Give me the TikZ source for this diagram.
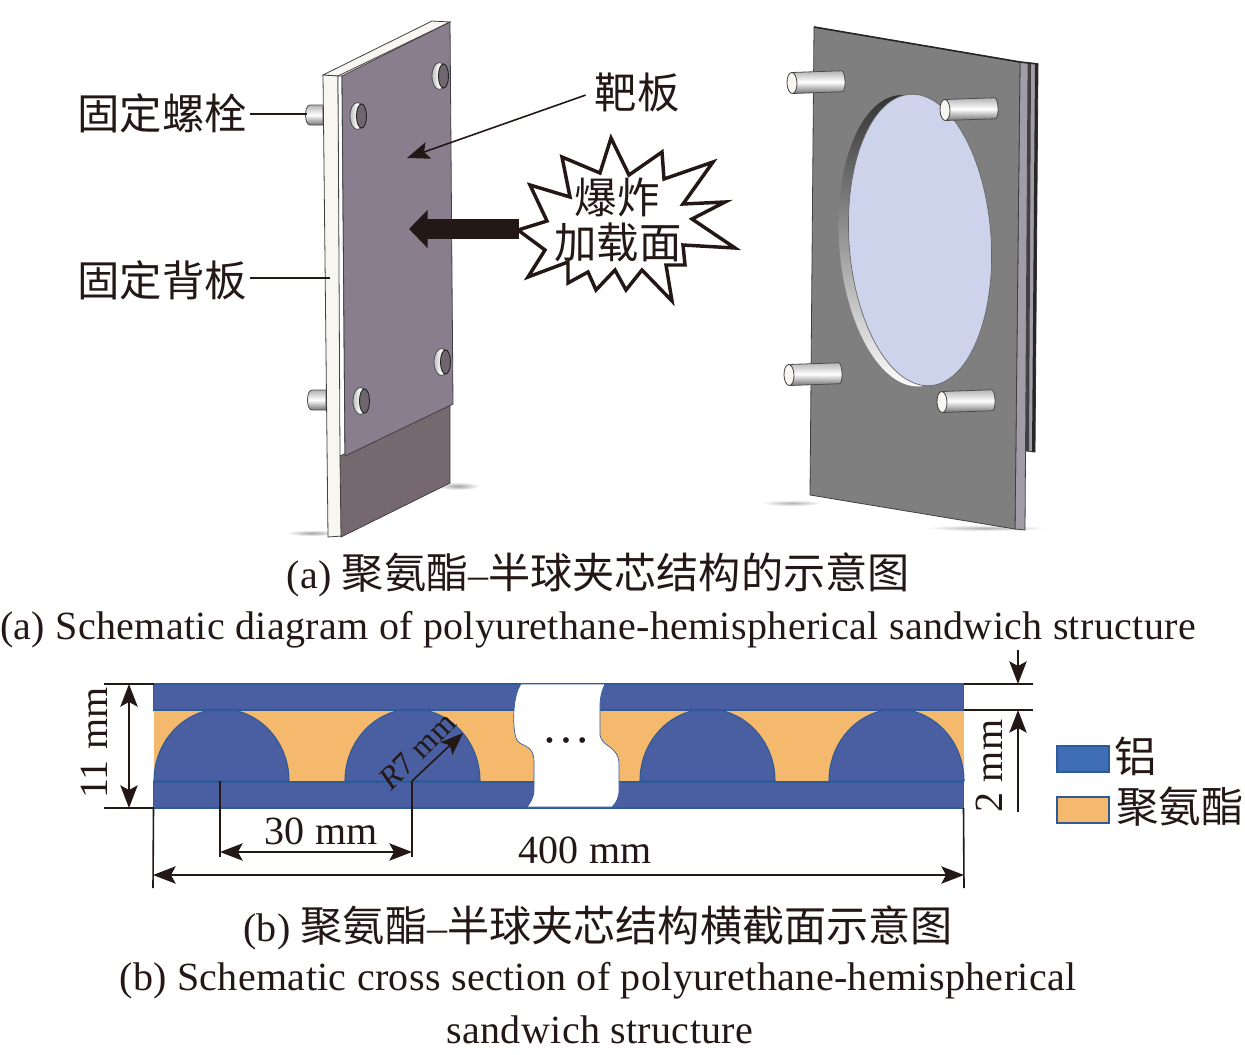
\documentclass[tikz,border=0pt]{standalone}
\usepackage{fontspec}
\setmainfont[LetterSpace=0.9]{Liberation Serif}
\newfontfamily\cjkfont{Noto Sans CJK SC}
\usetikzlibrary{arrows.meta}
\definecolor{inkc}{HTML}{231815}
\definecolor{barblue}{HTML}{4A5FA2}
\definecolor{barline}{HTML}{2F5A98}
\definecolor{coreorange}{HTML}{F5B96E}
\definecolor{legendblue}{HTML}{3F6DB5}
\definecolor{platemauve}{HTML}{887E8E}
\definecolor{lowermauve}{HTML}{75696F}
\definecolor{platewhite}{HTML}{F8F6F0}
\definecolor{plategray}{HTML}{7F7F7F}
\definecolor{holeblue}{HTML}{CCD3EA}
\definecolor{stripgray}{HTML}{A09CA8}
\definecolor{boltface}{HTML}{6F666F}
\tikzset{
  cjklabel/.style={inner sep=0pt,text=inkc,font=\cjkfont\fontsize{31.8}{32}\selectfont},
  caption/.style={inner sep=0pt,text=inkc,font=\fontsize{30}{30}\selectfont},
  dimtext/.style={inner sep=0pt,text=inkc,font=\fontsize{30}{30}\selectfont},
  leader/.style={draw=inkc,line width=1.2pt},
  tipped/.style={-{Stealth[length=17pt,width=13pt,inset=3.5pt]}},
  twotipped/.style={{Stealth[length=17pt,width=13pt,inset=3.5pt]}-{Stealth[length=17pt,width=13pt,inset=3.5pt]}},
  barbox/.style={draw=barline,line width=.8pt,fill=barblue,inner sep=0pt,outer sep=0pt},
  corebox/.style={fill=coreorange,inner sep=0pt,outer sep=0pt},
  dome/.style={draw=barline,line width=.8pt,fill=barblue},
  legendbox/.style={draw=barline,line width=1.6pt,inner sep=0pt,minimum width=39pt,minimum height=19.5pt},
  outline/.style={draw=black!75,line width=.6pt},
  boltbody/.style={draw=black!70,line width=.6pt,top color=black!30,bottom color=black!55,middle color=white}
}
\newcommand{\frontbolt}[2]{
  \path[draw=black!70,line width=.6pt,left color=black!25,right color=black!45,middle color=white] (#1-1.5,#2) ellipse [x radius=7.5,y radius=13.5];
  \draw[draw=black!85,line width=.7pt,fill=boltface] (#1+2.5,#2) ellipse [x radius=5,y radius=12];
}
\newcommand{\backbolt}[2]{
  \begin{scope}[shift={(#1,#2)},rotate=2]
    \path[boltbody] (0,-10.5) -- (50,-10.5) .. controls (54,-10.5) and (54,10.5) .. (50,10.5) -- (0,10.5) -- cycle;
    \draw[outline,fill=platewhite] (0,0) ellipse [x radius=5,y radius=10.5];
  \end{scope}
}
\newcommand{\cjkcap}[1]{{\cjkfont\fontsize{31.6}{32}\selectfont #1}}
\begin{document}
\begin{tikzpicture}[x=.75pt,y=-.75pt]
      \useasboundingbox (0,0) rectangle (1245,1054);

      \shade[inner color=black!35,outer color=white] (458,486) ellipse [x radius=22,y radius=4];
      \shade[inner color=black!35,outer color=white] (312,533) ellipse [x radius=26,y radius=3];
      \shade[inner color=black!30,outer color=white] (792,503) ellipse [x radius=30,y radius=3];
      \shade[inner color=black!30,outer color=white] (985,528) ellipse [x radius=60,y radius=3];

      \path[boltbody] (323,105) -- (310,105) .. controls (304,105) and (304,125) .. (310,125) -- (323,125) -- cycle;
      \path[boltbody] (326,390) -- (312,390) .. controls (306,390) and (306,410) .. (312,410) -- (326,410) -- cycle;
      \draw[outline,fill=platewhite] (323,75) -- (432,21) -- (450,22) -- (338,76) -- cycle;
      \draw[outline,fill=platewhite] (323,75) -- (338,76) -- (342,536) -- (328,537) -- cycle;
      \draw[outline,fill=white] (338,76) -- (342,76) -- (345,456) -- (340,456) -- cycle;
      \draw[outline,fill=lowermauve] (340,456) -- (450,405) -- (450,483) -- (341,537) -- cycle;
      \draw[outline,fill=platemauve] (342,76) -- (450,22) -- (453,404) -- (345,456) -- cycle;
      \frontbolt{441}{76}
      \frontbolt{359}{116}
      \frontbolt{443}{362}
      \frontbolt{362}{401}

      \draw[outline,fill=stripgray] (1028,63) -- (1038,64) -- (1035,452) -- (1026,451) -- cycle;
      \fill[black!75] (1028,63) -- (1031,63) -- (1029,451) -- (1026,451) -- cycle;
      \fill[black!85] (1035,64) -- (1038,64) -- (1035,452) -- (1032,452) -- cycle;
      \draw[outline,fill=stripgray] (1020,62) -- (1028,63) -- (1025,530) -- (1015,529) -- cycle;
      \draw[outline,fill=plategray] (814,27) -- (1020,62) -- (1015,529) -- (810,495) -- cycle;
      \draw[draw=black!85,line width=1.2pt] (814,27) -- (1020,62) -- (1038,64);
      \begin{scope}[shift={(920,240)},rotate=4]
        \shade[top color=black!80,bottom color=white] (-10,0) ellipse [x radius=71,y radius=146];
        \draw[black!60,line width=.5pt,fill=holeblue] (0,0) ellipse [x radius=71,y radius=146];
      \end{scope}
      \backbolt{792}{83}
      \backbolt{945}{110}
      \backbolt{789}{375}
      \backbolt{942}{402}

      \node (boltlabel) [cjklabel] at (162,113) {固定螺栓};
      \node (backlabel) [cjklabel] at (162,280) {固定背板};
      \node (targetlabel) [cjklabel] at (637,92) {靶板};
      \coordinate (boltpt) at (307,114);
      \coordinate (backpt) at (330,278);
      \coordinate (targetpt) at (407,158);
      \draw[leader] (boltlabel.east) ++(3,1) -- (boltpt);
      \draw[leader] (backlabel.east) ++(3,-2) -- (backpt);
      \draw[leader,tipped,shorten <=7pt] (targetlabel.west) -- (targetpt);

      \draw[draw=inkc,line width=2.6pt,fill=white]
        (518,230) -- (547,221) -- (530,185) -- (570,197) -- (562,157) -- (600,173) -- (611,138)
        -- (629,175) -- (662,152) -- (664,179) -- (713,162) -- (683,204) -- (725,202) -- (692,219)
        -- (735,248) -- (683,245) -- (685,265) -- (666,265) -- (672,301) -- (642,270) -- (626,290)
        -- (615,270) -- (596,290) -- (588,272) -- (568,283) -- (568,262) -- (528,277) -- (545,250) -- cycle;
      \coordinate (blastpt) at (519,229);
      \coordinate (loadpt) at (409,229);
      \draw[draw=inkc,line width=15pt,-{Triangle[length=14pt,width=28pt]}] (blastpt) -- (loadpt);
      \node (blastone) [cjklabel] at (617,197) {爆炸};
      \node (blasttwo) [cjklabel] at (618,242) {加载面};

      \node (capacn) [caption] at (598,575) {(a) \cjkcap{聚氨酯}–\cjkcap{半球夹芯结构的示意图}};
      \node (capaen) [caption] at (598,630) {(a) Schematic diagram of polyurethane-hemispherical sandwich structure};

      \node (corebar) [corebox,minimum width=607.5pt,minimum height=53.25pt] at (558.5,745.5) {};
      \draw[dome] (154,781) arc [start angle=180,end angle=360,x radius=67.5,y radius=72] -- cycle;
      \draw[dome] (345,781) arc [start angle=180,end angle=360,x radius=67.5,y radius=72] -- cycle;
      \draw[dome] (640,781) arc [start angle=180,end angle=360,x radius=67.5,y radius=72] -- cycle;
      \draw[dome] (829,781) arc [start angle=180,end angle=360,x radius=67.5,y radius=72] -- cycle;
      \node (topbar) [barbox,minimum width=607.5pt,minimum height=19.5pt] at (558.5,697) {};
      \node (lowbar) [barbox,minimum width=607.5pt,minimum height=19.5pt] at (558.5,795) {};
      \draw[draw=barline,line width=.5pt,fill=white]
        (521,684) .. controls (513,695) and (512,725) .. (516,738) .. controls (519,748) and (534,742) .. (534,762)
        -- (534,790) .. controls (534,798) and (530,803) .. (527,807) -- (612,807)
        .. controls (616,803) and (619,798) .. (619,790) -- (619,765) .. controls (619,745) and (602,748) .. (600,735)
        -- (600,705) .. controls (600,697) and (602,690) .. (605,684) -- cycle;
      \node (gapdots) [inner sep=0pt,text=inkc,font=\fontsize{18}{18}\selectfont] at (566,743) {•\hspace{6pt}•\hspace{6pt}•};

      \coordinate (htopend) at (104,684);
      \coordinate (hlowend) at (104,808);
      \coordinate (htopdim) at (129,684);
      \coordinate (hlowdim) at (129,808);
      \draw[leader] (topbar.north west) -- (htopend);
      \draw[leader] (lowbar.south west) -- (hlowend);
      \draw[leader,twotipped] (htopdim) -- (hlowdim);
      \node (heightlabel) [dimtext,rotate=90] at (94,743) {11 mm};

      \coordinate (pitcha) at (220,781);
      \coordinate (pitchb) at (412,781);
      \coordinate (pitchc) at (220,857);
      \coordinate (pitchd) at (412,857);
      \coordinate (pitche) at (220,852);
      \coordinate (pitchf) at (412,852);
      \coordinate (radiustip) at (463,733);
      \draw[leader] (pitcha) -- (pitchc);
      \draw[leader] (pitchb) -- (pitchd);
      \draw[leader,twotipped] (pitche) -- (pitchf);
      \draw[leader,tipped] (pitchb) -- (radiustip);
      \node (pitchlabel) [dimtext] at (321,831) {30 mm};
      \node (radiuslabel) [inner sep=0pt,text=inkc,rotate=45,font=\fontsize{24}{24}\selectfont] at (417,751) {\textit{R}7 mm};

      \coordinate (widthc) at (153,888);
      \coordinate (widthd) at (964,888);
      \coordinate (widthe) at (153,875);
      \coordinate (widthf) at (964,875);
      \draw[leader] (lowbar.south west) -- (widthc);
      \draw[leader] (lowbar.south east) -- (widthd);
      \draw[leader,twotipped] (widthe) -- (widthf);
      \node (widthlabel) [dimtext] at (585,850) {400 mm};

      \coordinate (skinend) at (1033,684);
      \coordinate (skinendb) at (1033,710);
      \coordinate (skinin) at (964,710);
      \coordinate (skinupa) at (1018,650);
      \coordinate (skinupb) at (1018,684);
      \coordinate (skinlowa) at (1018,812);
      \coordinate (skinlowb) at (1018,710);
      \draw[leader] (topbar.north east) -- (skinend);
      \draw[leader] (skinin) -- (skinendb);
      \draw[leader,tipped] (skinupa) -- (skinupb);
      \draw[leader,tipped] (skinlowa) -- (skinlowb);
      \node (skinlabel) [dimtext,rotate=90] at (989,766) {2 mm};

      \node (legendal) [legendbox,fill=legendblue] at (1083,759) {};
      \node (legendpu) [legendbox,fill=coreorange] at (1083,810) {};
      \node (aluminium) [cjklabel] at (1136,756) {铝};
      \node (polyurethane) [cjklabel] at (1180,807) {聚氨酯};

      \node (capbcn) [caption] at (598,928) {(b) \cjkcap{聚氨酯}–\cjkcap{半球夹芯结构横截面示意图}};
      \node (capben) [caption] at (598,981) {(b) Schematic cross section of polyurethane-hemispherical};
      \node (capbtwo) [caption] at (600,1030) {sandwich structure};
\end{tikzpicture}
\end{document}
